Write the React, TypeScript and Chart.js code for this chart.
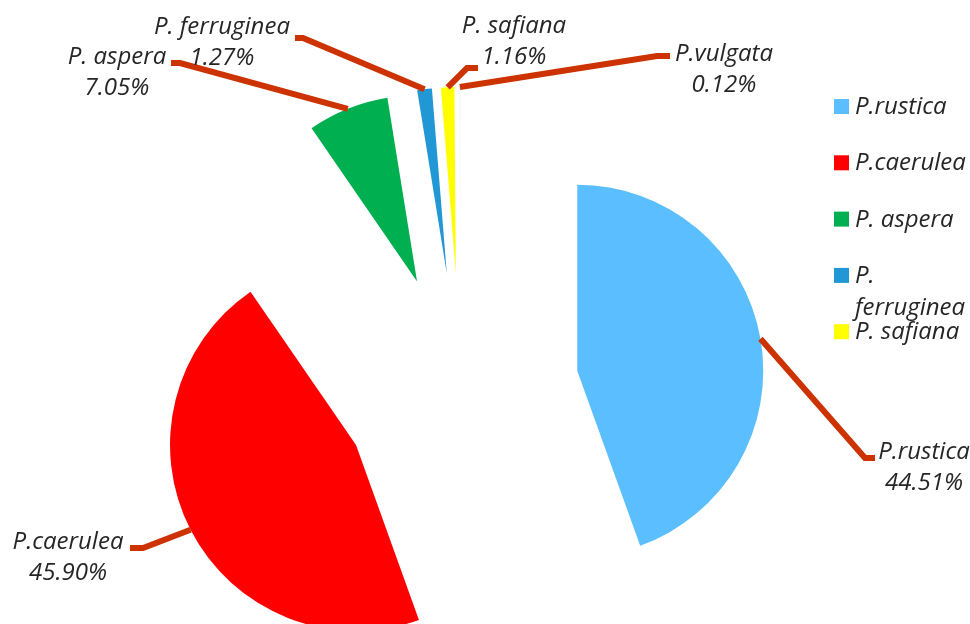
import { useEffect, useRef } from "react";
import { Chart, ArcElement, PieController } from "chart.js";

Chart.register(ArcElement, PieController);

// Species and their share of the total (%)
const species = ["P.rustica", "P.caerulea", "P. aspera", "P. ferruginea", "P. safiana", "P.vulgata"];
const shares = [44.51, 45.9, 7.05, 1.27, 1.16, 0.12];
const sliceColors = ["#5BBFFF", "#FF0000", "#00B050", "#2297D5", "#FFFF00", "#F6F6F6"];
// Only the first five species fit in the side legend
const legendCount = 5;

const FONT = "italic 24px 'Open Sans', Lato, sans-serif";
const TEXT_COLOR = "#262626";
const LEADER_COLOR = "#CC3300";

// Pushes each slice out from the centre along its own mid-angle
const explodePlugin = {
  id: "explode",
  afterDatasetsUpdate(chart: any, _args: any, opts: any) {
    const meta = chart.getDatasetMeta(0);
    const { left, right, top, bottom } = chart.chartArea;
    const cx = (left + right) / 2;
    const cy = (top + bottom) / 2;
    meta.data.forEach((arc: any) => {
      const mid = (arc.startAngle + arc.endAngle) / 2;
      arc.x = cx + Math.cos(mid) * opts.distance;
      arc.y = cy + Math.sin(mid) * opts.distance;
    });
  },
};

// Leader lines from the middle of each slice's rim to its two-line label
const leaderPlugin = {
  id: "leaders",
  afterDatasetsDraw(chart: any, _args: any, opts: any) {
    const ctx: CanvasRenderingContext2D = chart.ctx;
    const meta = chart.getDatasetMeta(0);
    ctx.save();
    meta.data.forEach((arc: any, i: number) => {
      const spec = opts.items[i];
      if (!spec) return;
      const mid = (arc.startAngle + arc.endAngle) / 2;
      const sx = arc.x + Math.cos(mid) * arc.outerRadius;
      const sy = arc.y + Math.sin(mid) * arc.outerRadius;
      ctx.beginPath();
      ctx.moveTo(sx, sy);
      ctx.lineTo(spec.knee[0], spec.knee[1]);
      ctx.lineTo(spec.tailX, spec.knee[1]);
      ctx.strokeStyle = LEADER_COLOR;
      ctx.lineWidth = 6;
      ctx.lineJoin = "miter";
      ctx.lineCap = "butt";
      ctx.stroke();

      ctx.font = FONT;
      ctx.fillStyle = TEXT_COLOR;
      ctx.textAlign = "center";
      ctx.textBaseline = "alphabetic";
      ctx.fillText(species[i], spec.label[0], spec.label[1]);
      ctx.fillText(shares[i].toFixed(2) + "%", spec.label[0], spec.label[1] + opts.lineGap);
    });
    ctx.restore();
  },
};

// Vertical legend on the right, wrapping long names at spaces
const sideLegendPlugin = {
  id: "sideLegend",
  afterDraw(chart: any, _args: any, opts: any) {
    const ctx: CanvasRenderingContext2D = chart.ctx;
    ctx.save();
    ctx.font = FONT;
    ctx.textAlign = "left";
    ctx.textBaseline = "alphabetic";
    for (let i = 0; i < legendCount; i++) {
      const base = opts.firstBaseline + i * opts.pitch;
      ctx.fillStyle = sliceColors[i];
      ctx.fillRect(opts.boxX, base - opts.box, opts.box, opts.box);

      const words = species[i].split(" ");
      const lines: string[] = [];
      let line = "";
      for (const w of words) {
        const test = line ? line + " " + w : w;
        if (line && ctx.measureText(test).width > opts.maxWidth) {
          lines.push(line);
          line = w;
        } else {
          line = test;
        }
      }
      lines.push(line);
      ctx.fillStyle = TEXT_COLOR;
      lines.forEach((t, k) => ctx.fillText(t, opts.textX, base + k * opts.wrapGap));
    }
    ctx.restore();
  },
};

export default function App() {
  const canvasRef = useRef<HTMLCanvasElement>(null);

  useEffect(() => {
    const canvas = canvasRef.current;
    if (!canvas) return;
    const chart = new Chart(canvas, {
      type: "pie",
      data: {
        labels: species,
        datasets: [
          {
            data: shares,
            backgroundColor: sliceColors,
            borderWidth: 0,
            radius: 186,
          } as any,
        ],
      },
      options: {
        responsive: false,
        animation: false,
        devicePixelRatio: 1,
        events: [],
        layout: { padding: { left: 0, right: 48, top: 158, bottom: 0 } },
        plugins: {
          legend: { display: false },
          tooltip: { enabled: false },
          explode: { distance: 118 },
          leaders: {
            lineGap: 31,
            items: [
              { knee: [865, 458], tailX: 875, label: [924, 459] },
              { knee: [143, 548], tailX: 130, label: [68, 549] },
              { knee: [180, 63], tailX: 171, label: [117, 64] },
              { knee: [303, 38], tailX: 295, label: [222, 34] },
              { knee: [467, 68], tailX: 478, label: [514, 33] },
              { knee: [657, 56], tailX: 670, label: [724, 61] },
            ],
          },
          sideLegend: {
            boxX: 834,
            box: 15,
            textX: 855,
            firstBaseline: 114,
            pitch: 56.3,
            wrapGap: 32,
            maxWidth: 130,
          },
        } as any,
      },
      plugins: [explodePlugin, leaderPlugin, sideLegendPlugin],
    });
    return () => chart.destroy();
  }, []);

  return (
    <div style={{ position: "fixed", left: 0, top: 0, width: 970, height: 624, background: "#ffffff" }}>
      <canvas ref={canvasRef} width={970} height={624} style={{ display: "block" }} />
    </div>
  );
}
